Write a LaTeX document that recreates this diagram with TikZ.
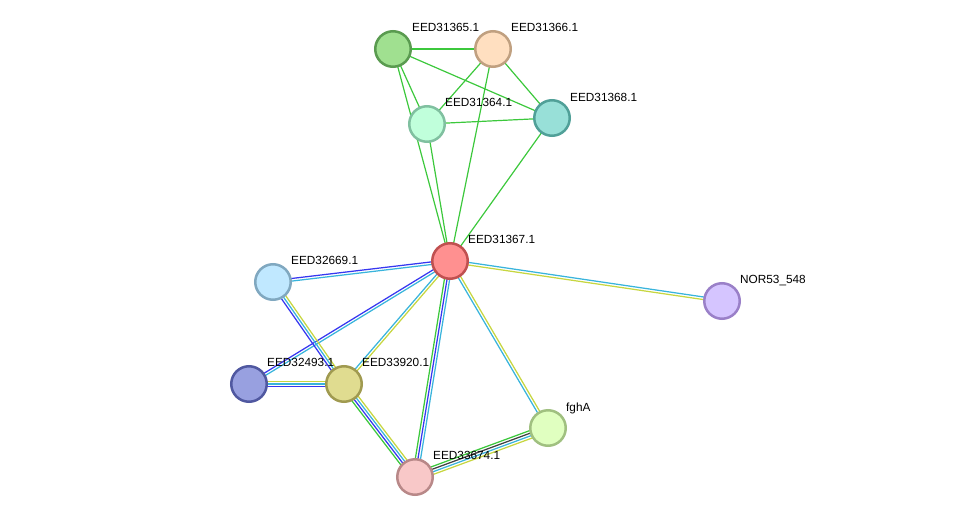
\documentclass[tikz,border=0pt]{standalone}
\usepackage{fontspec}
\setmainfont{Liberation Sans}
\usetikzlibrary{calc,backgrounds}
\definecolor{ecgreen}{RGB}{60,200,60}
\definecolor{ecblue}{RGB}{55,55,240}
\definecolor{eccyan}{RGB}{57,180,220}
\definecolor{ecyellow}{RGB}{199,214,64}
\definecolor{ecblack}{RGB}{64,64,64}
\definecolor{f65}{RGB}{160,224,144}\definecolor{s65}{RGB}{90,155,80}
\definecolor{f66}{RGB}{255,223,192}\definecolor{s66}{RGB}{192,160,128}
\definecolor{f64}{RGB}{192,255,219}\definecolor{s64}{RGB}{128,192,160}
\definecolor{f68}{RGB}{152,224,216}\definecolor{s68}{RGB}{80,160,152}
\definecolor{f67}{RGB}{255,144,144}\definecolor{s67}{RGB}{192,80,80}
\definecolor{f2669}{RGB}{192,232,255}\definecolor{s2669}{RGB}{128,168,192}
\definecolor{fnor}{RGB}{213,197,255}\definecolor{snor}{RGB}{154,128,200}
\definecolor{f2493}{RGB}{152,160,224}\definecolor{s2493}{RGB}{80,88,160}
\definecolor{f3920}{RGB}{224,220,144}\definecolor{s3920}{RGB}{160,154,80}
\definecolor{ffgh}{RGB}{224,255,192}\definecolor{sfgh}{RGB}{160,192,128}
\definecolor{f3674}{RGB}{248,200,200}\definecolor{s3674}{RGB}{184,136,136}
\newcommand\medge[4]{%
  \foreach \c [count=\i] in {#4} {%
    \pgfmathsetmacro\off{(\i-1-(#3-1)/2)*2.6}%
    \draw[line width=1.25pt, color=\c] ($(#1.center)!\off pt!90:(#2.center)$) -- ($(#2.center)!\off pt!-90:(#1.center)$);
  }%
}
\tikzset{
  prot/.style={circle, minimum size=35.5pt, inner sep=0pt, line width=2.5pt, draw=s#1, fill=f#1},
  plabel/.style={anchor=base west, inner sep=0pt, font=\fontsize{11.8}{14}\selectfont, text=black},
  gedge/.style={line width=1.2pt, ecgreen}
}
\begin{document}
\begin{tikzpicture}[x=1pt,y=-1pt]
\useasboundingbox (0,0) rectangle (975,522);
% nodes
\node[prot=65] (n65) at (393,49) {};
\node[prot=66] (n66) at (493,49) {};
\node[prot=64] (n64) at (427,124) {};
\node[prot=68] (n68) at (552,118) {};
\node[prot=67] (n67) at (450,261) {};
\node[prot=2669] (n2669) at (273,282) {};
\node[prot=nor] (nor) at (722,301) {};
\node[prot=2493] (n2493) at (249,384) {};
\node[prot=3920] (n3920) at (344,384) {};
\node[prot=fgh] (fgh) at (548,428) {};
\node[prot=3674] (n3674) at (415,477) {};
% labels
\node[plabel] (l65) at (412,31) {EED31365.1};
\node[plabel] (l66) at (511,31) {EED31366.1};
\node[plabel] (l64) at (445,106) {EED31364.1};
\node[plabel] (l68) at (570,101) {EED31368.1};
\node[plabel] (l67) at (468,243) {EED31367.1};
\node[plabel] (l2669) at (291,264) {EED32669.1};
\node[plabel] (lnor) at (740,283) {NOR53\_548};
\node[plabel] (l2493) at (267,366) {EED32493.1};
\node[plabel] (l3920) at (362,366) {EED33920.1};
\node[plabel] (lfgh) at (566,411) {fghA};
\node[plabel] (l3674) at (433,459) {EED33674.1};
% edges
\begin{pgfonlayer}{background}
\draw[gedge] (n65.center) -- (n66.center);
\draw[gedge] (n65.center) -- (n68.center);
\draw[gedge] (n65.center) -- (n64.center);
\draw[gedge] (n65.center) -- (n67.center);
\draw[gedge] (n66.center) -- (n64.center);
\draw[gedge] (n66.center) -- (n68.center);
\draw[gedge] (n66.center) -- (n67.center);
\draw[gedge] (n64.center) -- (n68.center);
\draw[gedge] (n64.center) -- (n67.center);
\draw[gedge] (n68.center) -- (n67.center);
\medge{n67}{n2669}{2}{ecblue,eccyan}
\medge{n67}{n2493}{2}{ecblue,eccyan}
\medge{n67}{n3920}{2}{eccyan,ecyellow}
\medge{n67}{n3674}{3}{ecgreen,ecblue,eccyan}
\medge{n67}{fgh}{2}{eccyan,ecyellow}
\medge{n67}{nor}{2}{ecyellow,eccyan}
\medge{n2669}{n3920}{3}{ecblue,eccyan,ecyellow}
\medge{n2493}{n3920}{3}{ecblue,eccyan,ecyellow}
\medge{n3920}{n3674}{4}{ecgreen,ecblue,eccyan,ecyellow}
\medge{n3674}{fgh}{4}{ecyellow,eccyan,ecblack,ecgreen}
\end{pgfonlayer}
\end{tikzpicture}
\end{document}
